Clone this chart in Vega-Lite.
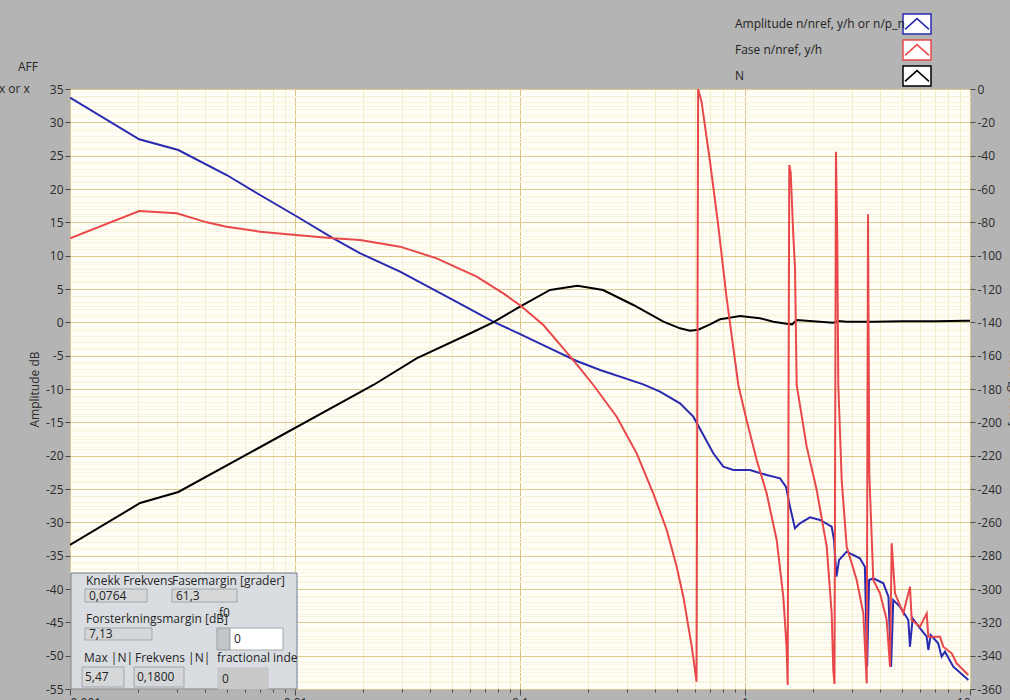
{
  "$schema": "https://vega.github.io/schema/vega-lite/v6.json",
  "width": 900,
  "height": 600,
  "autosize": {"type": "none"},
  "padding": {"left": 70, "top": 89, "right": 40, "bottom": 11},
  "background": "#b4b4b4",
  "config": {
    "view": {"fill": "#fffef6", "stroke": "#8a8a8a", "strokeWidth": 1},
    "font": "Open Sans",
    "axis": {
      "labelFont": "Open Sans", "labelFontSize": 12, "labelColor": "#2b2b2b",
      "tickColor": "#4a4a4a", "domain": false,
      "titleFont": "Open Sans", "titleFontWeight": "normal", "titleFontSize": 12, "titleColor": "#2b2b2b"
    }
  },
  "datasets": {
    "amp": [
      {"f": 0.001, "db": 33.7}, {"f": 0.00203, "db": 27.45}, {"f": 0.00303, "db": 25.85},
      {"f": 0.00497, "db": 22.1}, {"f": 0.00699, "db": 19.1}, {"f": 0.0101, "db": 15.95},
      {"f": 0.0148, "db": 12.6}, {"f": 0.0195, "db": 10.35}, {"f": 0.0293, "db": 7.6},
      {"f": 0.0489, "db": 3.6}, {"f": 0.076, "db": 0.1}, {"f": 0.1007, "db": -1.8},
      {"f": 0.136, "db": -3.9}, {"f": 0.1786, "db": -5.8}, {"f": 0.227, "db": -7.15},
      {"f": 0.353, "db": -9.3}, {"f": 0.419, "db": -10.4}, {"f": 0.514, "db": -12.15},
      {"f": 0.589, "db": -14.15}, {"f": 0.653, "db": -16.9}, {"f": 0.723, "db": -19.65},
      {"f": 0.801, "db": -21.65}, {"f": 0.888, "db": -22.15}, {"f": 1.052, "db": -22.15},
      {"f": 1.248, "db": -22.9}, {"f": 1.431, "db": -23.4}, {"f": 1.52, "db": -24.65},
      {"f": 1.585, "db": -27.65}, {"f": 1.667, "db": -30.9}, {"f": 1.755, "db": -30.15},
      {"f": 1.945, "db": -29.25}, {"f": 2.154, "db": -29.65}, {"f": 2.427, "db": -30.65},
      {"f": 2.487, "db": -32.65}, {"f": 2.55, "db": -38.15}, {"f": 2.618, "db": -35.65},
      {"f": 2.83, "db": -34.4}, {"f": 3.24, "db": -35.4}, {"f": 3.41, "db": -36.65},
      {"f": 3.49, "db": -51.65}, {"f": 3.56, "db": -38.65}, {"f": 3.72, "db": -38.4},
      {"f": 4.12, "db": -39.15}, {"f": 4.34, "db": -41.15}, {"f": 4.46, "db": -51.65},
      {"f": 4.56, "db": -41.65}, {"f": 4.88, "db": -42.65}, {"f": 5.32, "db": -44.65},
      {"f": 5.41, "db": -48.65}, {"f": 5.56, "db": -44.4}, {"f": 6.0, "db": -45.9},
      {"f": 6.42, "db": -47.15}, {"f": 6.53, "db": -49.15}, {"f": 6.69, "db": -46.9},
      {"f": 7.22, "db": -48.15}, {"f": 7.48, "db": -50.15}, {"f": 7.74, "db": -49.4},
      {"f": 8.43, "db": -51.65}, {"f": 9.83, "db": -53.65}
    ],
    "n": [
      {"f": 0.001, "db": -33.4}, {"f": 0.00205, "db": -27.1}, {"f": 0.00303, "db": -25.45},
      {"f": 0.0223, "db": -9.4}, {"f": 0.0347, "db": -5.4}, {"f": 0.058, "db": -1.9},
      {"f": 0.076, "db": 0.0}, {"f": 0.1, "db": 2.35}, {"f": 0.136, "db": 4.85},
      {"f": 0.18, "db": 5.5}, {"f": 0.234, "db": 4.85}, {"f": 0.319, "db": 2.6},
      {"f": 0.434, "db": 0.1}, {"f": 0.514, "db": -0.9}, {"f": 0.57, "db": -1.25},
      {"f": 0.62, "db": -1.1}, {"f": 0.699, "db": -0.3}, {"f": 0.774, "db": 0.45},
      {"f": 0.828, "db": 0.6}, {"f": 0.95, "db": 0.95}, {"f": 1.166, "db": 0.6},
      {"f": 1.337, "db": 0.1}, {"f": 1.53, "db": -0.2}, {"f": 1.62, "db": -0.3},
      {"f": 1.7, "db": 0.35}, {"f": 2.15, "db": 0.1}, {"f": 2.47, "db": -0.05},
      {"f": 2.6, "db": 0.2}, {"f": 2.83, "db": 0.1}, {"f": 3.72, "db": 0.1},
      {"f": 5.0, "db": 0.15}, {"f": 7.0, "db": 0.15}, {"f": 9.6, "db": 0.25}, {"f": 10, "db": 0.25}
    ],
    "phase": [
      {"f": 0.001, "deg": -89.6}, {"f": 0.00203, "deg": -73.2}, {"f": 0.00298, "deg": -74.6},
      {"f": 0.00405, "deg": -80.0}, {"f": 0.00497, "deg": -82.6}, {"f": 0.00699, "deg": -85.6},
      {"f": 0.0101, "deg": -87.6}, {"f": 0.0148, "deg": -89.6}, {"f": 0.01945, "deg": -90.6},
      {"f": 0.0293, "deg": -94.6}, {"f": 0.0426, "deg": -101.6}, {"f": 0.0642, "deg": -112.6},
      {"f": 0.0843, "deg": -122.6}, {"f": 0.1007, "deg": -130}, {"f": 0.127, "deg": -141.6},
      {"f": 0.1558, "deg": -155.6}, {"f": 0.1848, "deg": -167.6}, {"f": 0.2118, "deg": -177.6},
      {"f": 0.269, "deg": -196.6}, {"f": 0.33, "deg": -218.6}, {"f": 0.391, "deg": -242.6},
      {"f": 0.449, "deg": -264.6}, {"f": 0.497, "deg": -286.6}, {"f": 0.532, "deg": -304.6},
      {"f": 0.58, "deg": -334.6}, {"f": 0.609, "deg": -355.6}, {"f": 0.619, "deg": 0},
      {"f": 0.641, "deg": -7.6}, {"f": 0.699, "deg": -43.6}, {"f": 0.76, "deg": -81.6},
      {"f": 0.829, "deg": -125.6}, {"f": 0.934, "deg": -177.6}, {"f": 1.016, "deg": -198.6},
      {"f": 1.127, "deg": -222.6}, {"f": 1.248, "deg": -242.6}, {"f": 1.383, "deg": -270.6},
      {"f": 1.48, "deg": -304.6}, {"f": 1.53, "deg": -334.6}, {"f": 1.548, "deg": -357.6},
      {"f": 1.573, "deg": -45.6}, {"f": 1.596, "deg": -50}, {"f": 1.639, "deg": -87.6},
      {"f": 1.668, "deg": -107}, {"f": 1.697, "deg": -177.6}, {"f": 1.88, "deg": -214.6},
      {"f": 2.083, "deg": -240.6}, {"f": 2.308, "deg": -274.6}, {"f": 2.428, "deg": -314.6},
      {"f": 2.468, "deg": -348.6}, {"f": 2.499, "deg": -357}, {"f": 2.537, "deg": -37.6},
      {"f": 2.571, "deg": -89.6}, {"f": 2.598, "deg": -177.6}, {"f": 2.69, "deg": -234.6},
      {"f": 2.831, "deg": -274.6}, {"f": 3.136, "deg": -294.6}, {"f": 3.357, "deg": -314.6},
      {"f": 3.475, "deg": -356.6}, {"f": 3.522, "deg": -75.2}, {"f": 3.568, "deg": -230.6},
      {"f": 3.717, "deg": -294.6}, {"f": 3.981, "deg": -302.6}, {"f": 4.264, "deg": -318.6},
      {"f": 4.41, "deg": -346.6}, {"f": 4.487, "deg": -272.6}, {"f": 4.642, "deg": -302.6},
      {"f": 5.053, "deg": -314.6}, {"f": 5.412, "deg": -298.6}, {"f": 5.507, "deg": -318.6},
      {"f": 5.995, "deg": -322.6}, {"f": 6.422, "deg": -314.6}, {"f": 6.528, "deg": -328.6},
      {"f": 7.356, "deg": -328.6}, {"f": 7.607, "deg": -334.6}, {"f": 8.292, "deg": -338.6},
      {"f": 8.728, "deg": -344.6}, {"f": 9.826, "deg": -351.6}
    ],
    "panel": [
      {"f": 0.00101, "f2": 0.01021, "db": -37.6, "db2": -55, "kind": "panel"},
      {"f": 0.001166, "f2": 0.002199, "db": -40.0, "db2": -41.95, "kind": "indicator"},
      {"f": 0.002841, "f2": 0.005525, "db": -40.0, "db2": -41.95, "kind": "indicator"},
      {"f": 0.001166, "f2": 0.002314, "db": -45.85, "db2": -47.65, "kind": "indicator"},
      {"f": 0.004501, "f2": 0.005142, "db": -45.85, "db2": -49.15, "kind": "spinner"},
      {"f": 0.005142, "f2": 0.008844, "db": -45.85, "db2": -49.15, "kind": "control"},
      {"f": 0.001131, "f2": 0.001738, "db": -51.7, "db2": -54.7, "kind": "indicator"},
      {"f": 0.001925, "f2": 0.003211, "db": -51.7, "db2": -54.7, "kind": "indicator"},
      {"f": 0.004548, "f2": 0.007586, "db": -51.85, "db2": -55, "kind": "readonly"}
    ],
    "texts": [
      {"f": 0.001178, "db": -38.8, "label": "Knekk Frekvens"},
      {"f": 0.002841, "db": -38.8, "label": "Fasemargin [grader]"},
      {"f": 0.001214, "db": -40.98, "label": "0,0764"},
      {"f": 0.002959, "db": -40.98, "label": "61,3"},
      {"f": 0.001178, "db": -44.5, "label": "Forsterkningsmargin [dB]"},
      {"f": 0.004595, "db": -43.6, "label": "f0"},
      {"f": 0.001214, "db": -46.75, "label": "7,13"},
      {"f": 0.005356, "db": -47.5, "label": "0"},
      {"f": 0.001154, "db": -50.35, "label": "Max |N|"},
      {"f": 0.001945, "db": -50.35, "label": "Frekvens |N|"},
      {"f": 0.004501, "db": -50.35, "label": "fractional inde"},
      {"f": 0.001166, "db": -53.2, "label": "5,47"},
      {"f": 0.001985, "db": -53.2, "label": "0,1800"},
      {"f": 0.004738, "db": -53.5, "label": "0"},
      {"f": 0.000587, "db": 38.3, "label": "AFF"},
      {"f": 0.000483, "db": 35.0, "label": "x or x"}
    ]
  },
  "layer": [
    {
      "data": {"name": "amp"},
      "mark": {"type": "line", "strokeWidth": 2, "clip": true},
      "encoding": {
        "x": {
          "field": "f", "type": "quantitative",
          "scale": {"type": "log", "domain": [0.001, 10], "nice": false},
          "axis": {
            "orient": "bottom",
            "values": [0.001,0.002,0.003,0.004,0.005,0.006,0.007,0.008,0.009,0.01,0.02,0.03,0.04,0.05,0.06,0.07,0.08,0.09,0.1,0.2,0.3,0.4,0.5,0.6,0.7,0.8,0.9,1,2,3,4,5,6,7,8,9,10],
            "grid": true,
            "gridColor": {"condition": {"test": "abs(log(datum.value)/LN10 - round(log(datum.value)/LN10)) < 0.001", "value": "#d6c488"}, "value": "#f2eacb"},
            "tickSize": {"condition": {"test": "abs(log(datum.value)/LN10 - round(log(datum.value)/LN10)) < 0.001", "value": 6}, "value": 3},
            "labelExpr": "abs(log(datum.value)/LN10 - round(log(datum.value)/LN10)) < 0.001 ? ('' + datum.value) : ''",
            "labelPadding": 2,
            "labelOverlap": false,
            "title": null
          }
        },
        "y": {
          "field": "db", "type": "quantitative",
          "scale": {"domain": [-55, 35], "nice": false, "zero": false},
          "axis": {
            "orient": "left",
            "values": [-55,-54,-53,-52,-51,-50,-49,-48,-47,-46,-45,-44,-43,-42,-41,-40,-39,-38,-37,-36,-35,-34,-33,-32,-31,-30,-29,-28,-27,-26,-25,-24,-23,-22,-21,-20,-19,-18,-17,-16,-15,-14,-13,-12,-11,-10,-9,-8,-7,-6,-5,-4,-3,-2,-1,0,1,2,3,4,5,6,7,8,9,10,11,12,13,14,15,16,17,18,19,20,21,22,23,24,25,26,27,28,29,30,31,32,33,34,35],
            "grid": true,
            "gridColor": {"condition": {"test": "datum.value % 5 === 0", "value": "#ddcb8e"}, "value": "#f8f2db"},
            "tickSize": {"condition": {"test": "datum.value % 5 === 0", "value": 5}, "value": 0},
            "labelExpr": "datum.value % 5 === 0 ? ('' + datum.value) : ''",
            "labelPadding": 2,
            "labelOverlap": false,
            "title": "Amplitude dB",
            "titlePadding": 4
          }
        },
        "color": {
          "datum": "Amplitude n/nref, y/h or n/p_n",
          "scale": {"domain": ["Amplitude n/nref, y/h or n/p_n", "Fase n/nref, y/h", "N"], "range": ["#2a2ab0", "#e8484a", "#000000"]},
          "legend": {
            "orient": "none", "legendX": 834, "legendY": -78,
            "title": null,
            "symbolType": "M-1.167,-0.833H1.167V0.833H-1.167Z M-1,0.45L0,-0.45L1,0.45",
            "symbolSize": 576,
            "symbolStrokeWidth": 1.5,
            "symbolFillColor": "white",
            "labelAlign": "left",
            "labelOffset": -195,
            "labelFont": "Open Sans", "labelFontSize": 12, "labelColor": "#222222", "labelLimit": 400,
            "rowPadding": 0, "padding": 0,
            "encode": {"symbols": {"update": {"fill": {"value": "white"}, "opacity": {"value": 1}}}}
          }
        }
      }
    },
    {
      "data": {"name": "n"},
      "mark": {"type": "line", "strokeWidth": 2, "clip": true},
      "encoding": {
        "x": {"field": "f", "type": "quantitative", "scale": {"type": "log", "domain": [0.001, 10], "nice": false}},
        "y": {"field": "db", "type": "quantitative", "scale": {"domain": [-55, 35], "nice": false, "zero": false}, "axis": null},
        "color": {"datum": "N"}
      }
    },
    {
      "data": {"name": "phase"},
      "mark": {"type": "line", "strokeWidth": 2, "clip": true},
      "encoding": {
        "x": {"field": "f", "type": "quantitative", "scale": {"type": "log", "domain": [0.001, 10], "nice": false}},
        "y": {
          "field": "deg", "type": "quantitative",
          "scale": {"domain": [-360, 0], "nice": false, "zero": false},
          "axis": {
            "orient": "right",
            "values": [0,-5,-10,-15,-20,-25,-30,-35,-40,-45,-50,-55,-60,-65,-70,-75,-80,-85,-90,-95,-100,-105,-110,-115,-120,-125,-130,-135,-140,-145,-150,-155,-160,-165,-170,-175,-180,-185,-190,-195,-200,-205,-210,-215,-220,-225,-230,-235,-240,-245,-250,-255,-260,-265,-270,-275,-280,-285,-290,-295,-300,-305,-310,-315,-320,-325,-330,-335,-340,-345,-350,-355,-360],
            "grid": true,
            "gridColor": {"condition": {"test": "datum.value % 20 === 0", "value": "#ddcb8e"}, "value": "#faf5e2"},
            "tickSize": {"condition": {"test": "datum.value % 20 === 0", "value": 5}, "value": 0},
            "labelExpr": "datum.value % 20 === 0 ? ('' + datum.value) : ''",
            "labelPadding": 2,
            "labelOverlap": false,
            "title": "Fase [grader]",
            "titlePadding": 5
          }
        },
        "color": {"datum": "Fase n/nref, y/h"}
      }
    },
    {
      "data": {"name": "panel"},
      "mark": {"type": "rect", "strokeWidth": 1},
      "encoding": {
        "x": {"field": "f", "type": "quantitative", "scale": {"type": "log", "domain": [0.001, 10], "nice": false}},
        "x2": {"field": "f2"},
        "y": {"field": "db", "type": "quantitative", "scale": {"domain": [-55, 35], "nice": false, "zero": false}, "axis": null},
        "y2": {"field": "db2"},
        "fill": {"field": "kind", "type": "nominal", "scale": {"domain": ["panel", "indicator", "control", "readonly", "spinner"], "range": ["#d9dde1", "#d5d7d9", "#ffffff", "#c9c9c9", "#c2c6ca"]}, "legend": null},
        "stroke": {"field": "kind", "type": "nominal", "scale": {"domain": ["panel", "indicator", "control", "readonly", "spinner"], "range": ["#6e7f93", "#a3a7ab", "#a3a7ab", "#c4c4c4", "#9a9ea2"]}, "legend": null}
      }
    },
    {
      "data": {"name": "texts"},
      "mark": {"type": "text", "align": "left", "baseline": "middle", "fontSize": 12, "font": "Open Sans", "color": "#252525"},
      "encoding": {
        "x": {"field": "f", "type": "quantitative", "scale": {"type": "log", "domain": [0.001, 10], "nice": false}},
        "y": {"field": "db", "type": "quantitative", "scale": {"domain": [-55, 35], "nice": false, "zero": false}, "axis": null},
        "text": {"field": "label"}
      }
    }
  ],
  "resolve": {"scale": {"y": "independent"}}
}
